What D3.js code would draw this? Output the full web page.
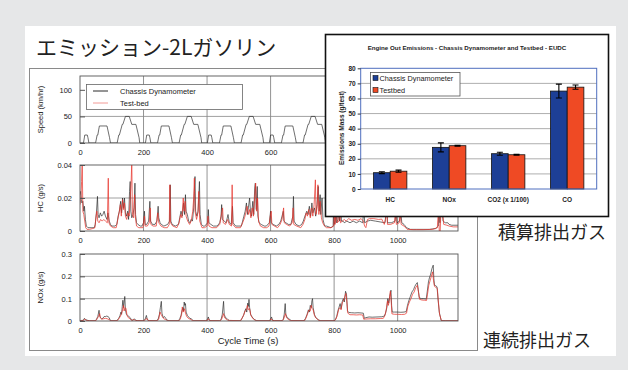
<!DOCTYPE html>
<html>
<head>
<meta charset="utf-8">
<script src="https://cdn.jsdelivr.net/npm/d3@7"></script>
<style>
  body { margin: 0; background: #e6e7e8; }
  svg { display: block; font-family: "Liberation Sans", Arial, sans-serif; }
</style>
</head>
<body>
<svg id="chart" width="628" height="370"></svg>
<script>
// ---- time series data: [cycle time (s), value] ----
const speedTrace = [
  [0,0],[11,0],[15,15],[23,15],[25,10],[28,0],[49,0],[54,15],[56,15],[61,32],[85,32],[93,10],[96,0],[117,0],[122,15],[124,15],[133,35],[135,35],[143,50],[155,50],[163,35],[176,35],[186,10],[188,0],[195,0],
  [206,0],[210,15],[218,15],[220,10],[223,0],[244,0],[249,15],[251,15],[256,32],[280,32],[288,10],[291,0],[312,0],[317,15],[319,15],[328,35],[330,35],[338,50],[350,50],[358,35],[371,35],[381,10],[383,0],[390,0],
  [401,0],[405,15],[413,15],[415,10],[418,0],[439,0],[444,15],[446,15],[451,32],[475,32],[483,10],[486,0],[507,0],[512,15],[514,15],[523,35],[525,35],[533,50],[545,50],[553,35],[566,35],[576,10],[578,0],[585,0],
  [596,0],[600,15],[608,15],[610,10],[613,0],[634,0],[639,15],[641,15],[646,32],[670,32],[678,10],[681,0],[702,0],[707,15],[709,15],[718,35],[720,35],[728,50],[740,50],[748,35],[761,35],[771,10],[773,0],[780,0],
  [800,0],[805,15],[807,15],[816,35],[818,35],[826,50],[828,50],[841,70],[891,70],[899,50],[968,50],[981,70],[1031,70],[1066,100],[1096,100],[1116,120],[1126,120],[1160,0],[1180,0]
];

const hcChassis = [
  [0,0.022],[2,0.024],[4,0.019],[6,0.017],[9,0.018],[12,0.012],[14,0.015],[17,0.007],[20,0.003],[25,0.002],[35,0.002],[45,0.002],[48,0.004],[52,0.012],[55,0.021],[57,0.01],[60,0.008],[64,0.011],[68,0.009],[72,0.01],[76,0.012],[80,0.009],[85,0.007],[88,0.011],[92,0.006],[96,0.004],[100,0.003],[110,0.003],[116,0.004],[120,0.009],[124,0.012],[128,0.018],[131,0.011],[134,0.02],[137,0.014],[140,0.02],[143,0.011],[146,0.009],[150,0.012],[153,0.007],[156,0.024],[158,0.03],[160,0.012],[163,0.008],[167,0.01],[170,0.014],[173,0.029],[175,0.01],[178,0.005],[182,0.004],[190,0.003],
  [195,0.003],[200,0.005],[203,0.012],[205,0.004],[210,0.004],[216,0.006],[220,0.018],[222,0.006],[228,0.004],[236,0.004],[242,0.006],[246,0.015],[248,0.008],[252,0.005],[256,0.004],[264,0.003],[276,0.004],[282,0.006],[284,0.028],[286,0.006],[290,0.004],[300,0.003],[310,0.004],[314,0.008],[318,0.012],[322,0.009],[326,0.017],[329,0.01],[332,0.022],[334,0.012],[338,0.01],[342,0.006],[346,0.005],[350,0.007],[354,0.006],[358,0.014],[360,0.024],[362,0.033],[364,0.012],[368,0.009],[372,0.012],[376,0.03],[378,0.01],[382,0.004],[388,0.003],
  [392,0.003],[398,0.004],[402,0.005],[404,0.013],[406,0.005],[412,0.004],[420,0.003],[432,0.003],[440,0.005],[444,0.009],[446,0.016],[448,0.007],[454,0.006],[460,0.005],[466,0.01],[470,0.005],[476,0.004],[480,0.015],[482,0.005],[490,0.003],[500,0.003],[508,0.003],[512,0.006],[516,0.009],[520,0.012],[524,0.017],[527,0.01],[530,0.014],[534,0.02],[537,0.011],[540,0.009],[544,0.018],[547,0.01],[550,0.026],[552,0.029],[555,0.013],[558,0.027],[560,0.009],[564,0.005],[570,0.004],[580,0.003],
  [586,0.003],[592,0.004],[596,0.005],[600,0.012],[602,0.005],[608,0.004],[618,0.003],[626,0.004],[632,0.006],[636,0.009],[640,0.012],[642,0.006],[648,0.005],[656,0.004],[664,0.004],[670,0.009],[672,0.021],[674,0.006],[680,0.004],[690,0.003],[698,0.004],[703,0.006],[708,0.009],[714,0.012],[718,0.01],[722,0.015],[726,0.009],[730,0.017],[733,0.011],[738,0.014],[742,0.009],[746,0.016],[750,0.027],[753,0.012],[756,0.022],[758,0.01],[762,0.02],[765,0.007],[770,0.003],
  [776,0.003],[790,0.002],[797,0.003],[798,0.015],[800,0.004],[804,0.006],[806,0.016],[808,0.005],[812,0.007],[814,0.014],[817,0.006],[821,0.017],[823,0.006],[828,0.006],[832,0.005],[840,0.006],[850,0.005],[860,0.006],[870,0.005],[880,0.006],[890,0.005],[894,0.015],[896,0.005],[905,0.006],[915,0.0065],[930,0.006],[945,0.0055],[960,0.005],[966,0.015],[968,0.005],[980,0.005],[992,0.006],[995,0.012],[998,0.005],[1006,0.006],[1010,0.012],[1013,0.005],[1020,0.004],[1028,0.002],[1040,0.001],[1060,0.001],[1080,0.001],[1100,0.001],[1120,0.0015],[1128,0.003],[1130,0.016],[1133,0.005],[1136,0.015],[1140,0.014],[1143,0.006],[1150,0.005],[1158,0.005],[1162,0.004],[1170,0.0035],[1190,0.0035]
];

const hcTestbed = [
  [0,0.016],[3,0.02],[5,0.03],[7,0.042],[9,0.012],[12,0.01],[15,0.006],[18,0.002],[22,0.001],[30,0.001],[40,0.0015],[47,0.002],[50,0.008],[53,0.012],[56,0.006],[60,0.005],[65,0.007],[70,0.006],[75,0.007],[80,0.006],[86,0.005],[89,0.032],[91,0.005],[96,0.003],[105,0.002],[114,0.002],[119,0.007],[123,0.011],[127,0.016],[130,0.009],[134,0.019],[137,0.013],[140,0.017],[143,0.009],[147,0.007],[151,0.011],[155,0.009],[158,0.02],[161,0.03],[163,0.042],[165,0.01],[169,0.008],[172,0.022],[174,0.009],[178,0.003],[185,0.002],[192,0.002],
  [198,0.002],[203,0.009],[205,0.003],[212,0.003],[218,0.005],[221,0.014],[223,0.004],[230,0.003],[240,0.003],[245,0.011],[248,0.005],[255,0.003],[265,0.002],[275,0.002],[281,0.004],[283,0.028],[285,0.005],[292,0.003],[305,0.002],[312,0.005],[317,0.01],[321,0.008],[325,0.02],[328,0.012],[331,0.018],[334,0.009],[339,0.006],[345,0.004],[350,0.006],[355,0.012],[358,0.02],[360,0.032],[362,0.012],[367,0.007],[371,0.011],[374,0.024],[377,0.006],[384,0.002],
  [392,0.002],[400,0.003],[403,0.009],[406,0.003],[415,0.002],[430,0.002],[440,0.004],[447,0.012],[449,0.014],[451,0.005],[458,0.004],[465,0.007],[470,0.004],[477,0.003],[479,0.028],[481,0.004],[490,0.002],[505,0.002],[512,0.005],[518,0.008],[522,0.011],[526,0.015],[530,0.01],[534,0.013],[538,0.008],[542,0.014],[546,0.009],[549,0.018],[553,0.029],[556,0.012],[559,0.02],[562,0.006],[568,0.003],[578,0.002],
  [588,0.002],[595,0.003],[599,0.009],[602,0.012],[604,0.004],[612,0.003],[622,0.002],[630,0.004],[636,0.007],[641,0.014],[643,0.005],[650,0.004],[660,0.003],[668,0.005],[671,0.014],[673,0.004],[682,0.003],[695,0.002],[702,0.004],[708,0.007],[712,0.011],[716,0.009],[720,0.013],[725,0.008],[729,0.014],[733,0.009],[737,0.016],[741,0.031],[743,0.01],[747,0.015],[749,0.028],[752,0.01],[756,0.018],[760,0.008],[764,0.005],[770,0.003],
  [776,0.002],[790,0.002],[799,0.003],[801,0.013],[803,0.004],[808,0.014],[810,0.005],[815,0.006],[818,0.015],[820,0.005],[826,0.006],[832,0.007],[838,0.006],[846,0.0075],[855,0.0065],[865,0.007],[875,0.0065],[885,0.0075],[892,0.006],[896,0.003],[900,0.002],[905,0.007],[912,0.0075],[925,0.0075],[940,0.007],[950,0.0072],[958,0.004],[962,0.007],[966,0.016],[968,0.004],[978,0.004],[990,0.005],[993,0.012],[996,0.004],[1005,0.005],[1008,0.011],[1011,0.004],[1020,0.003],[1030,0.001],[1050,0.0008],[1080,0.0008],[1110,0.001],[1125,0.002],[1129,0.015],[1131,0],[1134,0],[1137,0.016],[1141,0.012],[1145,0.004],[1155,0.0035],[1162,0.003],[1175,0.0025],[1190,0.0025]
];

const noxChassis = [
  [0,0.002],[10,0.003],[14,0.012],[18,0.006],[24,0.003],[30,0.001],[48,0.001],[52,0.008],[56,0.02],[60,0.048],[62,0.022],[65,0.014],[68,0.01],[72,0.012],[76,0.02],[80,0.02],[84,0.022],[88,0.02],[92,0.015],[95,0.003],[100,0.001],[115,0.001],[118,0.006],[122,0.012],[126,0.025],[129,0.04],[131,0.03],[133,0.065],[135,0.093],[137,0.06],[139,0.085],[141,0.11],[143,0.05],[146,0.03],[150,0.025],[154,0.02],[158,0.015],[162,0.005],[167,0.003],[171,0.01],[175,0.004],[180,0.001],
  [200,0.001],[205,0.008],[209,0.025],[212,0.006],[218,0.001],[240,0.001],[246,0.008],[250,0.03],[253,0.06],[256,0.088],[258,0.035],[262,0.015],[266,0.02],[270,0.012],[274,0.004],[280,0.001],[310,0.001],[314,0.01],[318,0.025],[321,0.045],[324,0.06],[326,0.045],[328,0.085],[330,0.07],[332,0.078],[334,0.04],[338,0.025],[342,0.018],[346,0.012],[350,0.01],[354,0.005],[358,0.001],
  [395,0.001],[401,0.006],[404,0.018],[407,0.004],[412,0.001],[440,0.001],[444,0.006],[448,0.03],[452,0.088],[454,0.03],[458,0.015],[462,0.012],[466,0.006],[470,0.001],[505,0.001],[510,0.012],[515,0.025],[519,0.045],[522,0.055],[525,0.04],[528,0.08],[530,0.065],[532,0.097],[534,0.06],[537,0.03],[541,0.02],[545,0.012],[550,0.006],[555,0.002],[560,0.001],
  [595,0.001],[599,0.006],[603,0.018],[606,0.004],[612,0.001],[636,0.001],[640,0.008],[643,0.03],[646,0.078],[648,0.03],[652,0.015],[656,0.012],[661,0.006],[666,0.001],[705,0.001],[710,0.012],[715,0.03],[719,0.05],[722,0.04],[725,0.07],[728,0.06],[730,0.09],[732,0.1],[734,0.06],[738,0.03],[742,0.015],[747,0.01],[752,0.004],[758,0.001],
  [800,0.001],[804,0.006],[808,0.02],[812,0.045],[815,0.06],[819,0.078],[822,0.055],[826,0.09],[829,0.1],[832,0.085],[836,0.133],[839,0.12],[842,0.045],[846,0.038],[855,0.037],[865,0.036],[875,0.037],[885,0.036],[892,0.035],[895,0.012],[900,0.015],[910,0.018],[920,0.017],[935,0.018],[950,0.019],[958,0.022],[962,0.035],[966,0.06],[969,0.1],[972,0.08],[975,0.11],[979,0.138],[981,0.07],[983,0.04],[990,0.04],[1000,0.04],[1010,0.039],[1020,0.04],[1027,0.042],[1031,0.07],[1035,0.09],[1040,0.11],[1045,0.13],[1050,0.14],[1054,0.155],[1058,0.165],[1062,0.172],[1065,0.14],[1068,0.105],[1074,0.1],[1082,0.1],[1090,0.098],[1093,0.13],[1097,0.175],[1100,0.193],[1104,0.21],[1108,0.235],[1112,0.25],[1114,0.19],[1116,0.16],[1120,0.158],[1124,0.153],[1127,0.1],[1131,0.04],[1137,0.002],[1150,0.001],[1190,0.001]
];

const noxTestbed = [
  [0,0.001],[10,0.002],[15,0.008],[20,0.003],[30,0.001],[50,0.001],[54,0.01],[58,0.02],[62,0.033],[64,0.015],[68,0.008],[74,0.01],[80,0.012],[86,0.01],[92,0.006],[96,0.001],[118,0.001],[122,0.01],[127,0.02],[131,0.035],[134,0.05],[137,0.07],[139,0.045],[142,0.06],[145,0.055],[148,0.025],[152,0.015],[157,0.01],[162,0.003],[170,0.006],[175,0.002],
  [200,0.001],[206,0.005],[210,0.012],[214,0.002],[244,0.001],[248,0.01],[252,0.04],[255,0.03],[259,0.02],[264,0.01],[270,0.006],[276,0.001],[312,0.001],[316,0.01],[320,0.03],[322,0.063],[325,0.04],[329,0.055],[332,0.035],[336,0.02],[341,0.012],[347,0.008],[353,0.003],[358,0.001],
  [400,0.001],[404,0.01],[408,0.002],[442,0.001],[447,0.012],[450,0.025],[452,0.033],[455,0.015],[460,0.008],[466,0.003],[506,0.001],[511,0.015],[516,0.03],[520,0.045],[524,0.05],[527,0.07],[530,0.05],[534,0.055],[538,0.025],[543,0.014],[548,0.006],[556,0.001],
  [597,0.001],[602,0.01],[606,0.002],[638,0.001],[642,0.012],[645,0.025],[647,0.033],[650,0.015],[655,0.008],[662,0.002],[707,0.001],[712,0.015],[717,0.035],[721,0.05],[725,0.045],[728,0.07],[731,0.055],[734,0.05],[738,0.025],[744,0.012],[750,0.004],[758,0.001],
  [802,0.001],[806,0.01],[810,0.025],[814,0.05],[818,0.06],[822,0.05],[826,0.085],[830,0.09],[834,0.11],[837,0.123],[840,0.09],[843,0.035],[850,0.028],[860,0.028],[870,0.027],[880,0.028],[890,0.027],[893,0.008],[900,0.009],[915,0.01],[930,0.01],[945,0.011],[955,0.012],[960,0.025],[964,0.05],[968,0.09],[971,0.07],[974,0.1],[977,0.133],[980,0.08],[982,0.032],[990,0.03],[1000,0.03],[1012,0.029],[1022,0.03],[1028,0.035],[1032,0.065],[1037,0.085],[1042,0.1],[1047,0.12],[1052,0.13],[1057,0.15],[1062,0.16],[1066,0.125],[1069,0.097],[1076,0.094],[1084,0.093],[1091,0.092],[1094,0.12],[1098,0.16],[1102,0.18],[1106,0.2],[1110,0.22],[1113,0.18],[1116,0.155],[1121,0.15],[1125,0.145],[1128,0.09],[1132,0.03],[1138,0.001],[1190,0.001]
];

const timeTicks = [0, 200, 400, 600, 800, 1000];
const speedTicks = [0, 50, 100];
const hcTicks = [0, 0.02, 0.04];
const noxTicks = [0, 0.1, 0.2, 0.3];

// ---- inset bar chart data ----
const categories = ['HC', 'NOx', 'CO2 (x 1/100)', 'CO'];
const seriesNames = ['Chassis Dynamometer', 'Testbed'];
const chassisMass = [10.8, 27.6, 23.4, 64.9];
const testbedMass = [11.8, 28.7, 22.7, 67.5];
const chassisErr = [0.6, 3.0, 1.0, 4.6];
const testbedErr = [0.7, 0.3, 0.3, 1.4];
const massTicks = [0, 10, 20, 30, 40, 50, 60, 70, 80];

const BLACK = '#2a2a2a', RED = '#e8322a';
const svg = d3.select('#chart');

// page background and card
svg.append('rect').attr('width', 628).attr('height', 370).attr('fill', '#e6e7e8');
svg.append('rect').attr('x', 25).attr('y', 26).attr('width', 591).attr('height', 330).attr('fill', '#fff');

svg.append('text').attr('x', 36).attr('y', 55)
  .style('font-family', '"Noto Sans CJK JP", sans-serif').style('font-size', '21px').attr('fill', '#222')
  .text('エミッション-2Lガソリン');

// left figure frame
svg.append('rect').attr('x', 29.5).attr('y', 68.5).attr('width', 448).attr('height', 282)
  .attr('fill', '#fff').attr('stroke', '#8a8a8a');

const x = d3.scaleLinear().domain([0, 1190]).range([80, 458]);
const line = (y) => d3.line().x(d => x(d[0])).y(d => y(d[1]));

const panels = [
  { id: 'spd', y: d3.scaleLinear().domain([0, 126]).range([143, 76]), ticks: speedTicks, grid: [50],
    fmt: d3.format('d'), label: 'Speed (km/hr)', traces: [[speedTrace, BLACK]] },
  { id: 'hc', y: d3.scaleLinear().domain([0, 0.04]).range([231, 165]), ticks: hcTicks, grid: [0.02],
    fmt: d => d === 0 ? '0' : d3.format('.2f')(d), label: 'HC (g/s)', traces: [[hcChassis, BLACK], [hcTestbed, RED]] },
  { id: 'nox', y: d3.scaleLinear().domain([0, 0.3]).range([321, 254]), ticks: noxTicks, grid: [0.1, 0.2],
    fmt: d => d === 0 ? '0' : d3.format('.1f')(d), label: 'NOx (g/s)', traces: [[noxChassis, BLACK], [noxTestbed, RED]] }
];

panels.forEach(p => {
  const [bottom, top] = p.y.range();
  const g = svg.append('g');
  g.append('clipPath').attr('id', 'clip-' + p.id)
    .append('rect').attr('x', 80).attr('y', top).attr('width', 378).attr('height', bottom - top);

  // grid
  g.selectAll('.vg').data(timeTicks.slice(1)).join('line')
    .attr('x1', d => x(d)).attr('x2', d => x(d)).attr('y1', top).attr('y2', bottom)
    .attr('stroke', '#777').attr('stroke-width', 0.8);
  g.selectAll('.hg').data(p.grid).join('line')
    .attr('x1', 80).attr('x2', 458).attr('y1', d => p.y(d)).attr('y2', d => p.y(d))
    .attr('stroke', '#888').attr('stroke-width', 0.8);

  // traces
  p.traces.forEach(([data, color]) => {
    g.append('path').datum(data).attr('clip-path', `url(#clip-${p.id})`)
      .attr('d', line(p.y)).attr('fill', 'none').attr('stroke', color)
      .attr('stroke-width', 0.8).attr('stroke-linejoin', 'round')
      .attr('opacity', color === RED ? 0.9 : 0.85);
  });

  g.append('rect').attr('x', 80).attr('y', top).attr('width', 378).attr('height', bottom - top)
    .attr('fill', 'none').attr('stroke', '#555').attr('stroke-width', 0.9);

  const ya = g.append('g').attr('transform', 'translate(80,0)')
    .call(d3.axisLeft(p.y).tickValues(p.ticks).tickFormat(p.fmt).tickSize(-5).tickPadding(8));
  const xa = g.append('g').attr('transform', `translate(0,${bottom})`)
    .call(d3.axisBottom(x).tickValues(timeTicks).tickFormat(d3.format('d')).tickSize(0).tickPadding(7));
  [ya, xa].forEach(a => {
    a.select('.domain').remove();
    a.selectAll('line').attr('stroke', '#555');
    a.selectAll('text').style('font-size', '7.5px').attr('fill', '#222');
  });

  g.append('text').attr('transform', `translate(43,${(top + bottom) / 2}) rotate(-90)`)
    .attr('text-anchor', 'middle').style('font-size', '7.5px').attr('fill', '#222').text(p.label);
});

// speed legend
const lg = svg.append('g');
lg.append('rect').attr('x', 86.5).attr('y', 84.5).attr('width', 156).attr('height', 25)
  .attr('fill', '#fff').attr('stroke', '#666').attr('stroke-width', 0.8);
[['Chassis Dynamometer', BLACK, 91], ['Test-bed', '#f29a96', 103]].forEach(([t, c, yy]) => {
  lg.append('line').attr('x1', 93).attr('x2', 108).attr('y1', yy).attr('y2', yy).attr('stroke', c).attr('stroke-width', 1);
  lg.append('text').attr('x', 120).attr('y', yy + 2.6).style('font-size', '7.5px').attr('fill', '#222').text(t);
});

svg.append('text').attr('x', 248).attr('y', 344).attr('text-anchor', 'middle')
  .style('font-size', '9.5px').attr('fill', '#222').text('Cycle Time (s)');

// ---- inset bar chart ----
const ins = svg.append('g');
ins.append('rect').attr('x', 325.5).attr('y', 34.5).attr('width', 283).attr('height', 182)
  .attr('fill', '#fff').attr('stroke', '#111').attr('stroke-width', 1.6);
ins.append('text').attr('x', 467).attr('y', 49.5).attr('text-anchor', 'middle')
  .style('font-size', '6.2px').style('font-weight', 'bold').attr('fill', '#222')
  .text('Engine Out Emissions - Chassis Dynamometer and Testbed - EUDC');

const yb = d3.scaleLinear().domain([0, 80]).range([189, 68.3]);
const x0 = d3.scaleBand().domain(categories).range([360.7, 596.7]).padding(0);
const x1 = d3.scaleBand().domain(seriesNames).range([0, x0.bandwidth()]).paddingInner(0).paddingOuter(0.77);
const barColor = d3.scaleOrdinal().domain(seriesNames).range(['#1d3f96', '#ef4a24']);

ins.selectAll('.bg').data(massTicks.slice(1, -1)).join('line')
  .attr('x1', 360.7).attr('x2', 596.7).attr('y1', d => yb(d)).attr('y2', d => yb(d))
  .attr('stroke', '#999').attr('stroke-width', 0.8);

const rows = categories.map((c, i) => [
  { cat: c, s: seriesNames[0], v: chassisMass[i], e: chassisErr[i] },
  { cat: c, s: seriesNames[1], v: testbedMass[i], e: testbedErr[i] }
]).flat();

ins.selectAll('.bar').data(rows).join('rect')
  .attr('x', d => x0(d.cat) + x1(d.s)).attr('width', x1.bandwidth())
  .attr('y', d => yb(d.v)).attr('height', d => yb(0) - yb(d.v))
  .attr('fill', d => barColor(d.s)).attr('stroke', '#111').attr('stroke-width', 0.8);

const ex = d => x0(d.cat) + x1(d.s) + x1.bandwidth() / 2;
ins.selectAll('.err').data(rows).join('path')
  .attr('d', d => `M${ex(d)},${yb(d.v + d.e)}V${yb(d.v - d.e)}M${ex(d) - 3},${yb(d.v + d.e)}h6M${ex(d) - 3},${yb(d.v - d.e)}h6`)
  .attr('fill', 'none').attr('stroke', '#000').attr('stroke-width', 1.1);

ins.append('rect').attr('x', 360.7).attr('y', 68.3).attr('width', 236).attr('height', 120.7)
  .attr('fill', 'none').attr('stroke', '#4f6fbf').attr('stroke-width', 1);

const yba = ins.append('g').attr('transform', 'translate(360.7,0)')
  .call(d3.axisLeft(yb).tickValues(massTicks).tickSize(3).tickPadding(2));
const xba = ins.append('g').attr('transform', 'translate(0,189)')
  .call(d3.axisBottom(x0).tickSize(0).tickPadding(8));
[yba, xba].forEach(a => {
  a.select('.domain').remove();
  a.selectAll('line').attr('stroke', '#333');
  a.selectAll('text').style('font-size', '6.5px').style('font-weight', 'bold').attr('fill', '#222');
});
ins.append('text').attr('transform', 'translate(344,128) rotate(-90)').attr('text-anchor', 'middle')
  .style('font-size', '6.5px').style('font-weight', 'bold').attr('fill', '#222').text('Emissions Mass (g/test)');

const bl = ins.append('g');
bl.append('rect').attr('x', 370.5).attr('y', 72.5).attr('width', 89.5).attr('height', 23.5)
  .attr('fill', '#fff').attr('stroke', '#555').attr('stroke-width', 0.8);
seriesNames.forEach((s, i) => {
  bl.append('rect').attr('x', 373).attr('y', 75.5 + i * 12).attr('width', 5).attr('height', 5)
    .attr('fill', barColor(s)).attr('stroke', '#111').attr('stroke-width', 0.6);
  bl.append('text').attr('x', 379.5).attr('y', 81 + i * 12).style('font-size', '7.3px').attr('fill', '#222').text(s);
});

// side captions
svg.append('text').attr('x', 498).attr('y', 239)
  .style('font-family', '"Noto Sans CJK JP", sans-serif').style('font-size', '18px').attr('fill', '#222').text('積算排出ガス');
svg.append('text').attr('x', 483).attr('y', 347)
  .style('font-family', '"Noto Sans CJK JP", sans-serif').style('font-size', '18px').attr('fill', '#222').text('連続排出ガス');
</script>
</body>
</html>
